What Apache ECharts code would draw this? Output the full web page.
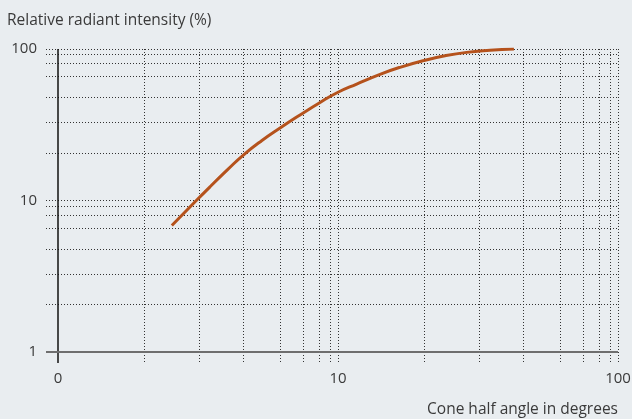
<!DOCTYPE html>
<html><head><meta charset="utf-8">
<script src="https://cdn.jsdelivr.net/npm/echarts@6/dist/echarts.min.js"></script>
<style>html,body{margin:0;padding:0;background:#e9edf0}#c{width:632px;height:419px}</style>
</head><body><div id="c"></div><script>
// Curve: cone half angle (deg) vs relative radiant intensity (%)
const angles    = [2.55, 2.96, 3.49, 4.05, 4.59, 5.35, 6.21, 7.32, 8.63, 10.0, 11.66, 14.13, 16.65, 20.2, 24.1, 28.8, 34.9, 42.5];
const intensity = [6.84, 9.06, 12.31, 16.09, 19.96, 24.9, 30.1, 36.7, 44.4, 51.8, 58.7, 68.1, 75.7, 83.8, 90.2, 95.0, 98.0, 100];
// Grid line values as drawn in the reference
const xGridValues = [2.04, 3.2, 4.6, 6.2, 7.5, 8.6, 9.4, 10, 20.4, 32, 46, 62, 75, 86, 94, 100];
const yGridValues = [2.06, 3.27, 4.79, 6.58, 8.0, 9.2, 10, 20.6, 32.7, 47.9, 65.8, 80, 92, 100];
// Tick labels
const xTickValues = [1, 10, 100];
const xTickLabels = ['0', '10', '100'];
const yTickValues = [1, 10, 100];
const yTickLabels = ['1', '10', '100'];

const FONT = 'Open Sans';
const TXT = '#3a3a3a';
function nearestLabel(vals, labels, v) {
  let best = 0, bd = Infinity;
  vals.forEach((t, i) => { const d = Math.abs(Math.log10(t) - Math.log10(v)); if (d < bd) { bd = d; best = i; } });
  return labels[best];
}
const grid = { color: '#333', width: 1, type: [1, 2] };

const chart = echarts.init(document.getElementById('c'), null, { renderer: 'canvas' });
chart.setOption({
  backgroundColor: '#e9edf0',
  animation: false,
  title: [
    { text: 'Relative radiant intensity (%)', left: 2, top: 8,
      textStyle: { fontFamily: FONT, fontSize: 15.5, fontWeight: 'normal', color: TXT } },
    { text: 'Cone half angle in degrees', right: 9, bottom: -4,
      textStyle: { fontFamily: FONT, fontSize: 15.5, fontWeight: 'normal', color: TXT } }
  ],
  grid: { left: 46, right: 14, top: 49, bottom: 56, containLabel: false, outerBoundsMode: 'none' },
  xAxis: {
    type: 'log', logBase: 10, min: 0.906, max: 100,
    axisLine: { show: false },
    axisTick: { show: false, customValues: xGridValues },
    splitLine: { show: true, lineStyle: grid },
    axisLabel: { customValues: xTickValues, margin: 8, fontFamily: FONT, fontSize: 15, color: TXT,
      formatter: v => nearestLabel(xTickValues, xTickLabels, v) }
  },
  yAxis: {
    type: 'log', logBase: 10, min: 0.846, max: 100,
    axisLine: { show: false },
    axisTick: { show: false, customValues: yGridValues },
    splitLine: { show: true, lineStyle: grid },
    axisLabel: { customValues: yTickValues, margin: 9, fontFamily: FONT, fontSize: 15, color: TXT,
      formatter: v => nearestLabel(yTickValues, yTickLabels, v) }
  },
  series: [{
    type: 'line',
    data: angles.map((a, i) => [a, intensity[i]]),
    smooth: 0.5,
    symbol: 'none',
    lineStyle: { color: '#b5521c', width: 3, cap: 'butt' },
    z: 5,
    markLine: {
      silent: true, symbol: 'none', animation: false,
      label: { show: false },
      data: [
        { xAxis: 1, lineStyle: { color: '#111', width: 1.5, type: 'solid' } },
        { yAxis: 1, lineStyle: { color: '#6e6e6e', width: 2, type: 'solid' } }
      ]
    }
  }]
});
</script></body></html>
